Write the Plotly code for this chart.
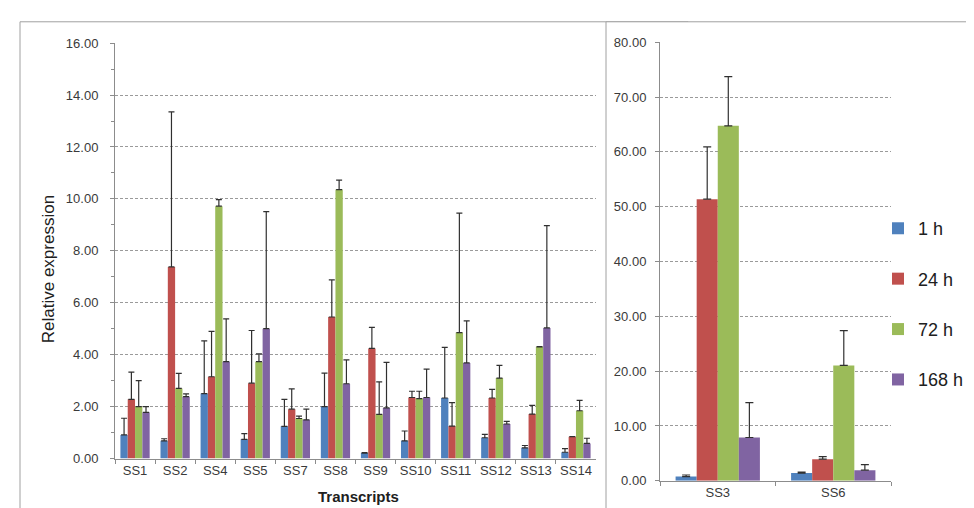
import plotly.graph_objects as go

# ---------------- data ----------------
left_cats = ["SS1", "SS2", "SS4", "SS5", "SS7", "SS8", "SS9", "SS10", "SS11", "SS12", "SS13", "SS14"]
right_cats = ["SS3", "SS6"]
series_names = ["1 h", "24 h", "72 h", "168 h"]

left_1h = [0.91, 0.68, 2.50, 0.74, 1.24, 2.00, 0.21, 0.68, 2.33, 0.80, 0.41, 0.24]
left_1h_err = [0.64, 0.08, 2.03, 0.22, 1.04, 1.29, 0.02, 0.38, 1.95, 0.13, 0.09, 0.14]
left_24h = [2.28, 7.38, 3.15, 2.90, 1.90, 5.45, 4.24, 2.35, 1.25, 2.33, 1.71, 0.84]
left_24h_err = [1.05, 5.97, 1.75, 2.03, 0.78, 1.43, 0.81, 0.24, 0.90, 0.33, 0.34, 0.0]
left_72h = [2.00, 2.70, 9.72, 3.73, 1.54, 10.36, 1.70, 2.31, 4.85, 3.10, 4.30, 1.84]
left_72h_err = [1.00, 0.58, 0.25, 0.30, 0.09, 0.36, 1.25, 0.28, 4.60, 0.49, 0.01, 0.40]
left_168h = [1.78, 2.38, 3.73, 5.00, 1.49, 2.88, 1.95, 2.35, 3.68, 1.33, 5.03, 0.58]
left_168h_err = [0.22, 0.11, 1.65, 4.51, 0.41, 0.92, 1.75, 1.09, 1.62, 0.10, 3.94, 0.20]

right_1h = [0.77, 1.42]
right_1h_err = [0.29, 0.18]
right_24h = [51.36, 3.95]
right_24h_err = [9.54, 0.47]
right_72h = [64.74, 21.05]
right_72h_err = [8.96, 6.35]
right_168h = [7.90, 1.95]
right_168h_err = [6.37, 1.00]

left_ticks = [0, 2, 4, 6, 8, 10, 12, 14, 16]
right_ticks = [0, 10, 20, 30, 40, 50, 60, 70, 80]

colors = ["#4F81BD", "#C0504D", "#9BBB59", "#8064A2"]

W, H = 974, 508
FONT = "Liberation Sans, Arial, sans-serif"
TXT = "#3a3a3a"
AXC = "#8c8c8c"

def px_x(p):
    return p / W

def px_y(p):
    return 1 - p / H

fig = go.Figure()

left_vals = [left_1h, left_24h, left_72h, left_168h]
left_errs = [left_1h_err, left_24h_err, left_72h_err, left_168h_err]
right_vals = [right_1h, right_24h, right_72h, right_168h]
right_errs = [right_1h_err, right_24h_err, right_72h_err, right_168h_err]

for i, name in enumerate(series_names):
    fig.add_trace(go.Bar(
        x=left_cats, y=left_vals[i], name=name, marker_color=colors[i],
        marker_line_width=0, showlegend=False, xaxis="x", yaxis="y",
        error_y=dict(type="data", array=left_errs[i], arrayminus=[0] * len(left_cats),
                     symmetric=False, color="#303030", thickness=1.2, width=3),
    ))
for i, name in enumerate(series_names):
    fig.add_trace(go.Bar(
        x=right_cats, y=right_vals[i], name=name, marker_color=colors[i],
        marker_line_width=0, showlegend=True, legendgroup=name, xaxis="x2", yaxis="y2",
        error_y=dict(type="data", array=right_errs[i], arrayminus=[0] * len(right_cats),
                     symmetric=False, color="#303030", thickness=1.2, width=4),
    ))

grid = dict(showgrid=True, gridcolor="#9a9a9a", gridwidth=1, griddash="3px,2px")

fig.update_layout(
    width=W, height=H,
    margin=dict(l=0, r=0, t=0, b=0),
    paper_bgcolor="white", plot_bgcolor="rgba(0,0,0,0)",
    barmode="group", bargap=0.27, bargroupgap=0,
    font=dict(family=FONT, color=TXT, size=13),
    xaxis=dict(domain=[px_x(107), px_x(588)], anchor="y", type="category",
               showline=True, linecolor=AXC, linewidth=1, ticks="outside",
               tickson="boundaries", ticklen=4, tickcolor=AXC, tickangle=0,
               tickfont=dict(size=13, color=TXT), showgrid=False),
    yaxis=dict(domain=[px_y(457), px_y(29)], anchor="x", range=[0, 16],
               tickvals=left_ticks, tickformat=".2f", showline=True, linecolor=AXC,
               ticks="outside", ticklen=4, tickcolor=AXC, ticklabelstandoff=9,
               minor=dict(dtick=1, ticks="outside", ticklen=3, tickcolor=AXC, showgrid=False),
               tickfont=dict(size=13, color=TXT), zeroline=False, **grid),
    xaxis2=dict(domain=[px_x(652), px_x(883)], anchor="y2", type="category",
                showline=True, linecolor=AXC, linewidth=1, ticks="outside",
                tickson="boundaries", ticklen=4, tickcolor=AXC, tickangle=0,
                tickfont=dict(size=13, color=TXT), showgrid=False),
    yaxis2=dict(domain=[px_y(480), px_y(28)], anchor="x2", range=[0, 80],
                tickvals=right_ticks, tickformat=".2f", showline=True, linecolor=AXC,
                ticks="outside", ticklen=4, tickcolor=AXC, ticklabelstandoff=6,
                tickfont=dict(size=13, color=TXT), zeroline=False, **grid),
    legend=dict(x=px_x(870), y=px_y(201), xanchor="left", yanchor="top",
                font=dict(size=18, color="#202020", family=FONT),
                tracegroupgap=24, itemwidth=30, bgcolor="rgba(0,0,0,0)"),
    shapes=[
        # left chart frame
        dict(type="rect", xref="paper", yref="paper", x0=px_x(12), x1=px_x(680),
             y0=px_y(530), y1=px_y(7), line=dict(color="#a0a0a0", width=1),
             fillcolor="white", layer="below"),
        # right chart frame (overlapping)
        dict(type="rect", xref="paper", yref="paper", x0=px_x(598), x1=px_x(972),
             y0=px_y(530), y1=px_y(7), line=dict(color="#a0a0a0", width=1),
             fillcolor="white", layer="below"),
    ],
    annotations=[
        dict(text="Relative expression", xref="paper", yref="paper",
             x=px_x(40), y=px_y(262), xanchor="center", yanchor="middle",
             textangle=-90, showarrow=False,
             font=dict(size=17, color="#202020", family=FONT)),
        dict(text="<b>Transcripts</b>", xref="paper", yref="paper",
             x=px_x(350), y=px_y(496), xanchor="center", yanchor="middle",
             showarrow=False,
             font=dict(size=15, color="#202020", family=FONT)),
    ],
)

fig.write_html("out.html")
